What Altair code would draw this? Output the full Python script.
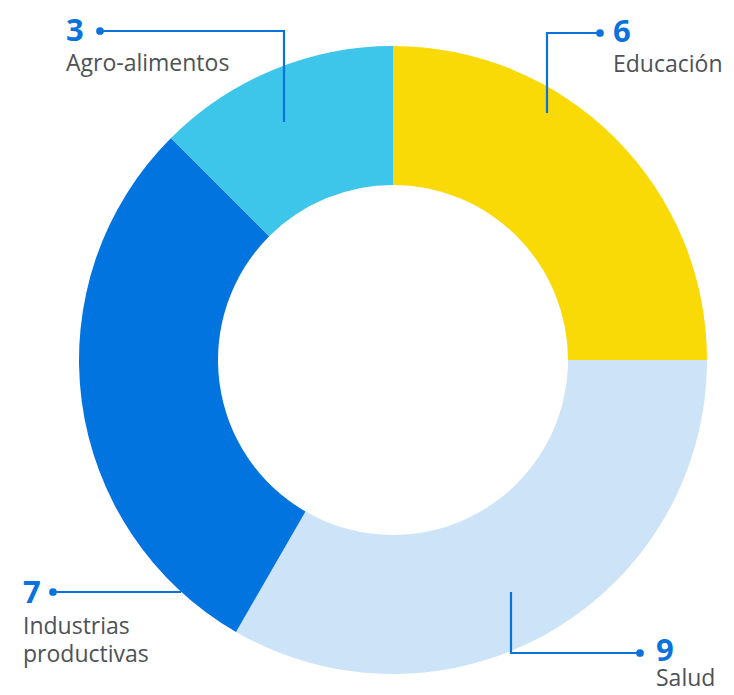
import altair as alt
import pandas as pd

# ---- data ----
categories = ["Educación", "Salud", "Industrias productivas", "Agro-alimentos"]
values = [6, 9, 7, 3]                 # numbers printed on the labels
sector_share = [6, 8, 7, 3]           # relative sector sizes as drawn in the picture
colors = ["#F9D906", "#CDE3F7", "#0174E0", "#3EC5EA"]
label_lines = ["Educación", "Salud", "Industrias\nproductivas", "Agro-alimentos"]

# ---- layout (page pixels; chart origin sits at the 8px page margin) ----
M = 8
CX, CY = 393 - M, 360 - M
R_OUT, R_IN = 314, 175
W, H = 718, 679

leaders = [
    [(600, 33), (547, 33), (547, 113)],
    [(640, 653), (511, 653), (511, 592)],
    [(53, 592), (181, 592)],
    [(100, 31), (284, 31), (284, 122)],
]
num_pos = [(613, 42), (656, 661), (23, 603), (66, 41)]
lab_pos = [(613, 72), (656, 686), (23, 634), (66, 71)]

BLUE = "#0A72DC"
GRAY = "#4D5257"
FONT = "Open Sans"

df = pd.DataFrame({"cat": categories, "share": sector_share, "idx": range(len(categories))})

arcs = alt.Chart(df).mark_arc(radius=R_OUT, radius2=R_IN, stroke=None).encode(
    theta=alt.Theta("share:Q", stack=True),
    order=alt.Order("idx:Q"),
    color=alt.Color("cat:N", scale=alt.Scale(domain=categories, range=colors), legend=None),
    x=alt.value(CX),
    y=alt.value(CY),
)

rows = []
for i, pts in enumerate(leaders):
    for j, (px, py) in enumerate(pts):
        rows.append({"cat": categories[i], "o": j, "x": px - M, "y": py - M})
ldf = pd.DataFrame(rows)

lines = alt.Chart(ldf).mark_line(color=BLUE, strokeWidth=2.2).encode(
    x=alt.X("x:Q", scale=None, axis=None),
    y=alt.Y("y:Q", scale=None, axis=None),
    detail="cat:N",
    order="o:Q",
)

dots_df = pd.DataFrame({"x": [p[0][0] - M for p in leaders], "y": [p[0][1] - M for p in leaders]})
dots = alt.Chart(dots_df).mark_circle(color=BLUE, size=60, opacity=1).encode(
    x=alt.X("x:Q", scale=None, axis=None),
    y=alt.Y("y:Q", scale=None, axis=None),
)

ndf = pd.DataFrame({
    "t": [str(v) for v in values],
    "x": [p[0] - M for p in num_pos],
    "y": [p[1] - M for p in num_pos],
})
nums = alt.Chart(ndf).mark_text(
    align="left", baseline="alphabetic", font=FONT, fontSize=31, fontWeight="bold", color=BLUE
).encode(
    x=alt.X("x:Q", scale=None, axis=None),
    y=alt.Y("y:Q", scale=None, axis=None),
    text="t:N",
)

tdf = pd.DataFrame({
    "t": label_lines,
    "x": [p[0] - M for p in lab_pos],
    "y": [p[1] - M for p in lab_pos],
})
labs = alt.Chart(tdf).mark_text(
    align="left", baseline="alphabetic", font=FONT, fontSize=23, color=GRAY,
    lineBreak="\n", lineHeight=28,
).encode(
    x=alt.X("x:Q", scale=None, axis=None),
    y=alt.Y("y:Q", scale=None, axis=None),
    text="t:N",
)

chart = alt.layer(arcs, lines, dots, nums, labs).properties(
    width=W, height=H, padding=0, autosize=alt.AutoSizeParams(type="none"),
).configure_view(stroke=None)

chart.save("out.html", embed_options={"renderer": "svg", "actions": False})
